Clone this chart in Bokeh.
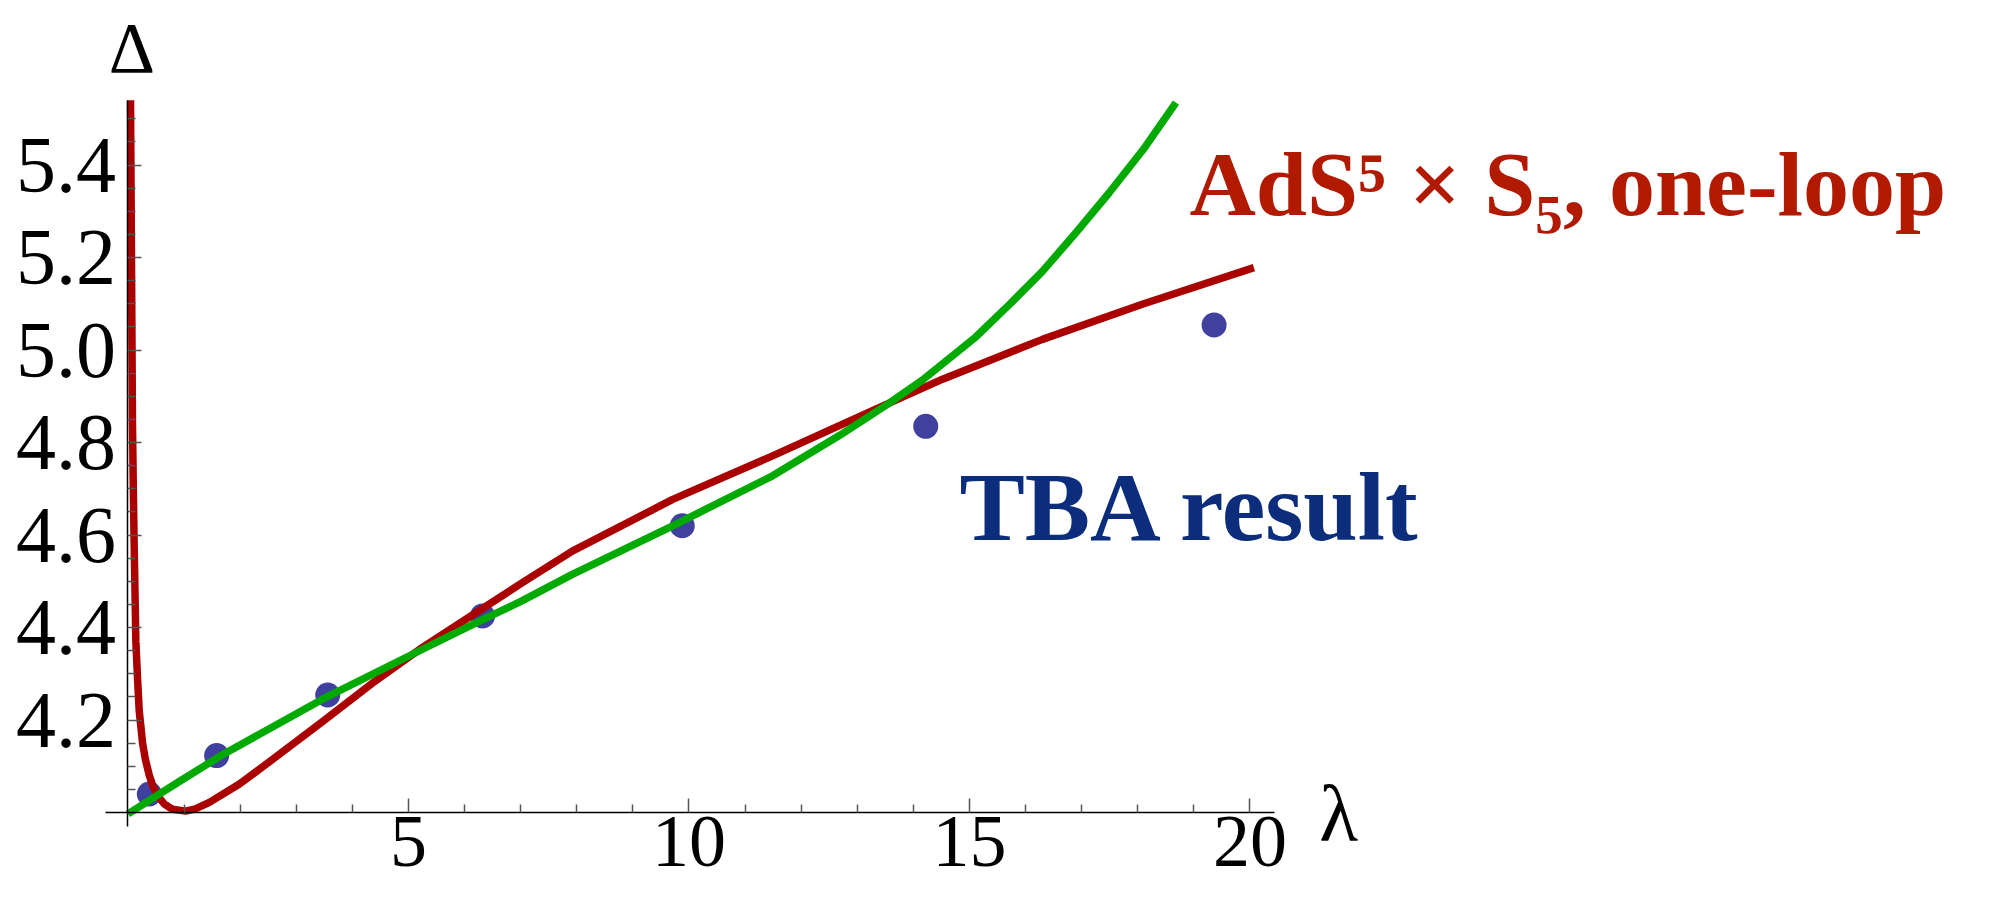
from bokeh.plotting import figure
from bokeh.models import FixedTicker, Label, LinearAxis, Range1d, PrintfTickFormatter, Grid
from bokeh.embed import file_html
from bokeh.resources import INLINE

# ---- data ----
lam_tba = [0.38, 1.58, 3.56, 6.32, 9.88, 14.22, 19.36]
delta_tba = [4.040, 4.123, 4.254, 4.425, 4.620, 4.835, 5.054]

lam_oneloop = [0.045, 0.062, 0.08, 0.095, 0.11, 0.14, 0.17, 0.20, 0.26, 0.31, 0.38, 0.45,
               0.53, 0.65, 0.79, 1.03, 1.20, 1.45, 1.98, 2.58, 3.47, 4.36, 5.25, 6.14,
               7.03, 7.92, 9.71, 11.49, 13.27, 14.52, 16.30, 18.08, 20.07]
delta_oneloop = [5.54, 5.20, 4.84, 4.70, 4.58, 4.37, 4.29, 4.22, 4.15, 4.115, 4.08, 4.055,
                 4.036, 4.018, 4.007, 4.003, 4.008, 4.022, 4.061, 4.115, 4.197, 4.280, 4.357, 4.427,
                 4.497, 4.565, 4.677, 4.771, 4.869, 4.937, 5.023, 5.099, 5.178]

lam_fit = [0.0, 0.9, 1.685, 3.467, 5.25, 6.14, 7.03, 7.92, 9.71, 11.49, 12.68, 13.57,
           14.16, 15.11, 15.70, 16.30, 16.90, 17.49, 18.10, 18.68]
delta_fit = [3.997, 4.066, 4.125, 4.245, 4.353, 4.406, 4.458, 4.515, 4.620, 4.728, 4.815, 4.885,
             4.935, 5.028, 5.097, 5.170, 5.254, 5.340, 5.434, 5.535]

x_major = [5, 10, 15, 20]
x_minor = [1, 2, 3, 4, 6, 7, 8, 9, 11, 12, 13, 14, 16, 17, 18, 19]
y_major = [4.2, 4.4, 4.6, 4.8, 5.0, 5.2, 5.4]
y_minor = [4.05, 4.1, 4.15, 4.25, 4.3, 4.35, 4.45, 4.5, 4.55, 4.65, 4.7, 4.75,
           4.85, 4.9, 4.95, 5.05, 5.1, 5.15, 5.25, 5.3, 5.35, 5.45, 5.5]

SERIF = "Liberation Serif"

p = figure(width=1990, height=883,
           x_range=Range1d(-2.2727, 33.2), y_range=Range1d(3.8465, 5.7557),
           output_backend="svg", toolbar_location=None,
           x_axis_location=None, y_axis_location=None, min_border=0)
p.center = [r for r in p.center if not isinstance(r, Grid)]
p.outline_line_color = None
p.background_fill_color = "white"
p.border_fill_color = "white"

xaxis = LinearAxis(fixed_location=4.0, bounds=(-0.4, 20.44),
                   ticker=FixedTicker(ticks=x_major, minor_ticks=x_minor),
                   formatter=PrintfTickFormatter(format="%d"))
yaxis = LinearAxis(fixed_location=0, bounds=(3.97, 5.54),
                   ticker=FixedTicker(ticks=y_major, minor_ticks=y_minor),
                   formatter=PrintfTickFormatter(format="%.1f"))
for ax in (xaxis, yaxis):
    ax.axis_line_color = "black"
    ax.axis_line_width = 1.5
    ax.major_tick_in = 14
    ax.major_tick_out = 0
    ax.minor_tick_in = 8
    ax.minor_tick_out = 0
    ax.major_tick_line_color = "#555555"
    ax.minor_tick_line_color = "#555555"
    ax.major_tick_line_width = 1.5
    ax.minor_tick_line_width = 1.5
    ax.major_label_text_font = SERIF
    ax.major_label_text_color = "black"
xaxis.major_label_text_font_size = "74px"
xaxis.major_label_standoff = 4
yaxis.major_label_text_font_size = "80px"
yaxis.major_label_standoff = 12
p.add_layout(xaxis, "below")
p.add_layout(yaxis, "left")

p.scatter(lam_tba, delta_tba, size=25, color="#40409F", line_color=None)
p.line(lam_oneloop, delta_oneloop, line_color="#AA0000", line_width=7.5, line_join="round")
p.line(lam_fit, delta_fit, line_color="#00AA00", line_width=7.5, line_join="round")

p.add_layout(Label(x=0.07, y=5.654, text="Δ", text_font=SERIF, text_font_size="72px",
                   text_color="black", text_align="center", text_baseline="alphabetic"))
p.add_layout(Label(x=21.58, y=3.996, text="λ", text_font=SERIF, text_font_size="80px",
                   text_color="black", text_align="center", text_baseline="alphabetic"))
p.add_layout(Label(x=18.92, y=5.36, text="AdS⁵ × S₅, one-loop", text_font=SERIF,
                   text_font_style="bold", text_font_size="92px", text_color="#B21A00",
                   text_align="left", text_baseline="alphabetic"))
p.add_layout(Label(x=14.82, y=4.6606, text="TBA result", text_font=SERIF,
                   text_font_style="bold", text_font_size="98px", text_color="#0B2D7B",
                   text_align="left", text_baseline="alphabetic"))

open("out.html", "w").write(file_html(p, INLINE))
